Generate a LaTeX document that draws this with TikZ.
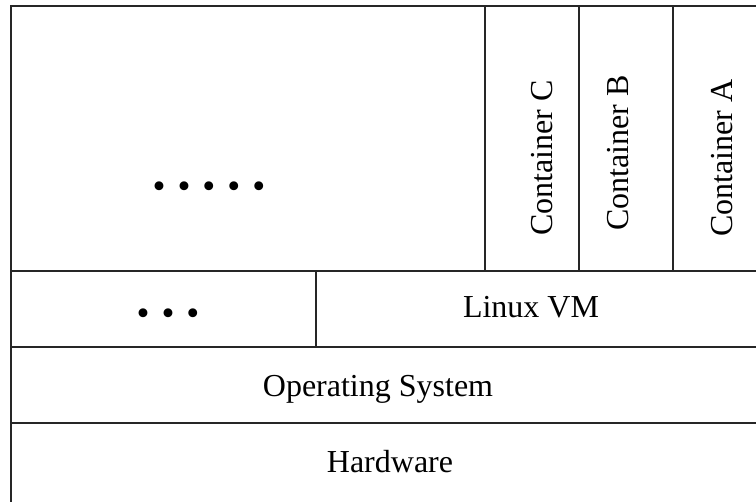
\documentclass[tikz,border=0pt]{standalone}
\usepackage{fontspec}
\setmainfont{Liberation Serif}
\usepackage{tikz}
\tikzset{
  lyline/.style={line width=1.9pt, draw=black!85, line cap=rect},
  lylabel/.style={font=\fontsize{32}{38}\selectfont, inner sep=0pt, anchor=base},
  lyvert/.style={lylabel, rotate=90},
  lydots/.style={lylabel, font=\fontsize{37}{44}\selectfont},
}
\newcommand{\lygap}{\hspace{12pt}}

\begin{document}
\begin{tikzpicture}[x=1pt, y=-1pt]
\useasboundingbox (0,0) rectangle (756,502);
\clip (0,0) rectangle (756,502);
\draw[lyline] (11,6) rectangle (770,515);
\draw[lyline] (11,271) -- (770,271);
\draw[lyline] (11,347) -- (770,347);
\draw[lyline] (11,423) -- (770,423);
\draw[lyline] (485,6) -- (485,271);
\draw[lyline] (579,6) -- (579,271);
\draw[lyline] (673,6) -- (673,271);
\draw[lyline] (316,271) -- (316,347);
\node[lydots] (moreapps) at (209,199) {•\lygap•\lygap•\lygap•\lygap•};
\node[lyvert] (contc) at (552,158) {Container C};
\node[lyvert] (contb) at (628,153) {Container B};
\node[lyvert] (conta) at (732,158) {Container A};
\node[lydots] (morevms) at (168,326) {•\lygap•\lygap•};
\node[lylabel] (linuxvm) at (531,318) {Linux VM};
\node[lylabel] (hostos) at (378,397) {Operating System};
\node[lylabel] (hardware) at (390,473) {Hardware};
\end{tikzpicture}
\end{document}
